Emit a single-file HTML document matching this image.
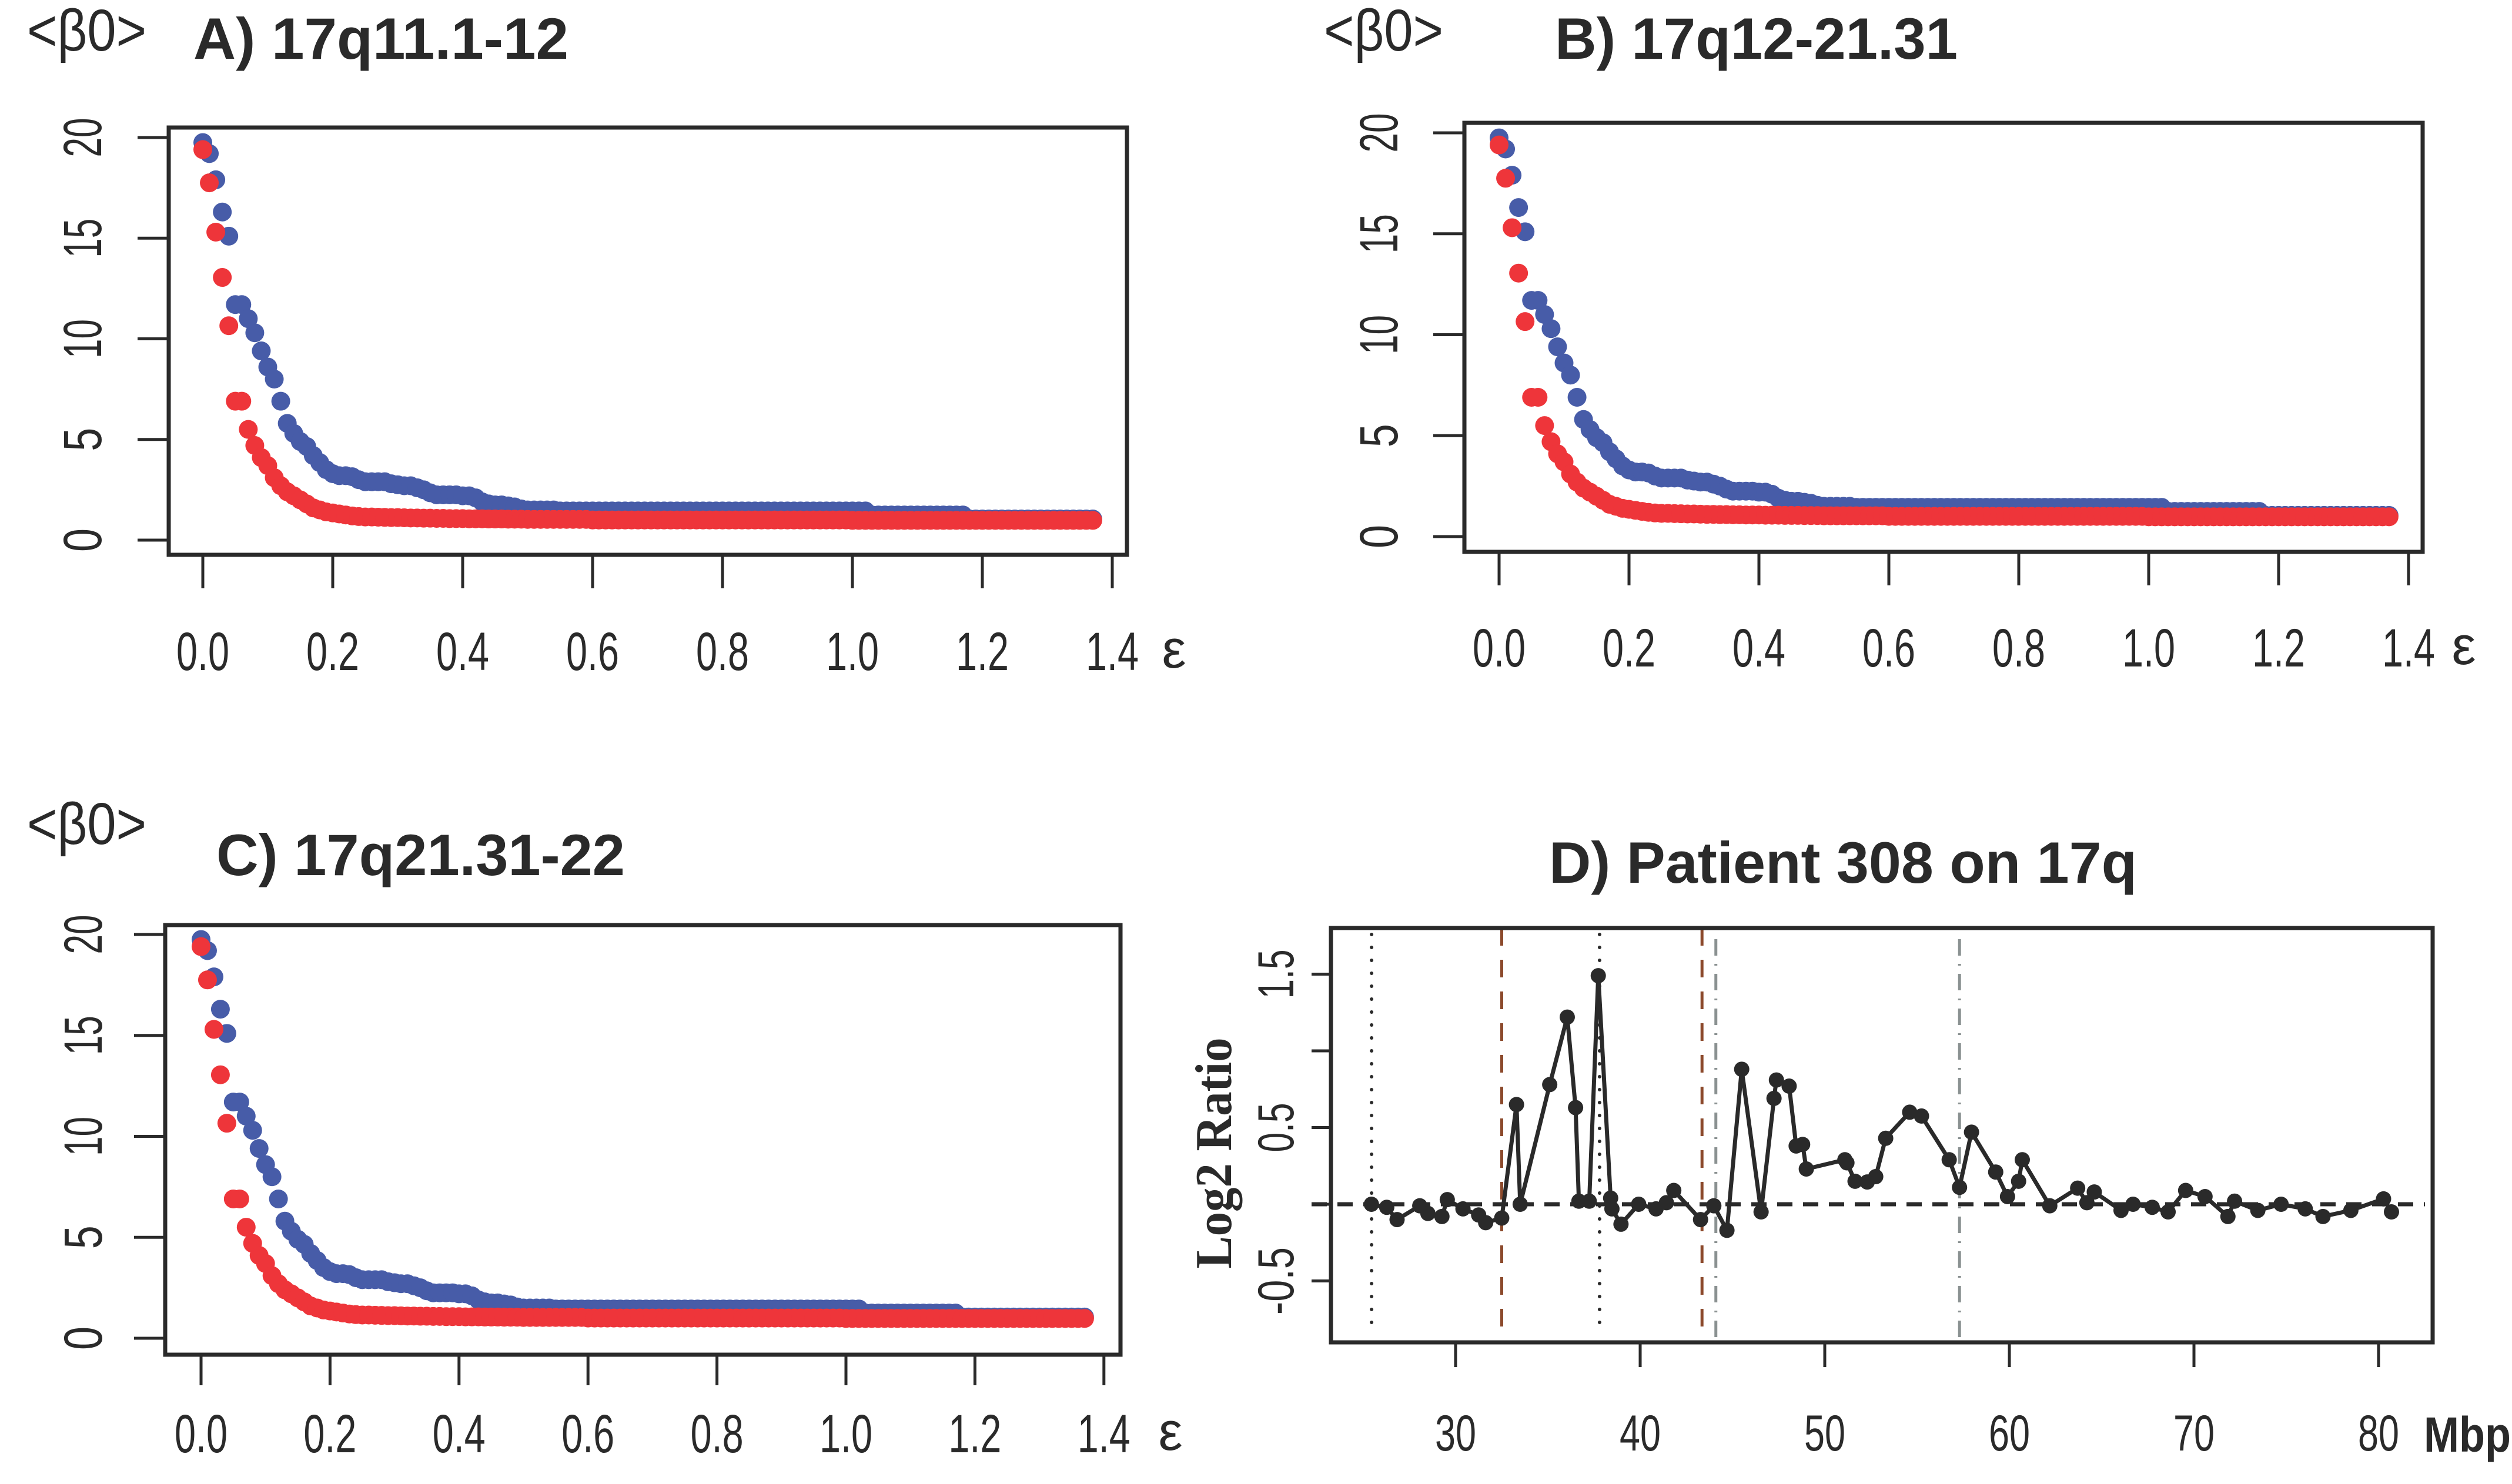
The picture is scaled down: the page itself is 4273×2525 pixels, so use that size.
<!DOCTYPE html>
<html><head><meta charset="utf-8"><style>
html,body{margin:0;padding:0;background:#fff;}
svg{display:block;}
text{font-family:"Liberation Sans",sans-serif;fill:#2a2a2a;}
</style></head><body>
<svg id="fig" xmlns="http://www.w3.org/2000/svg" width="4273" height="2525" viewBox="0 0 4273 2525"></svg>
<script>
// ---- data for panels A-C (beta0 vs epsilon) ----
const epsValues = [0,0.01,0.02,0.03,0.04,0.05,0.06,0.07,0.08,0.09,0.1,0.11,0.12,0.13,0.14,0.15,0.16,0.17,0.18,0.19,0.2,0.21,0.22,0.23,0.24,0.25,0.26,0.27,0.28,0.29,0.3,0.31,0.32,0.33,0.34,0.35,0.36,0.37,0.38,0.39,0.4,0.41,0.42,0.43,0.44,0.45,0.46,0.47,0.48,0.49,0.5,0.51,0.52,0.53,0.54,0.55,0.56,0.57,0.58,0.59,0.6,0.61,0.62,0.63,0.64,0.65,0.66,0.67,0.68,0.69,0.7,0.71,0.72,0.73,0.74,0.75,0.76,0.77,0.78,0.79,0.8,0.81,0.82,0.83,0.84,0.85,0.86,0.87,0.88,0.89,0.9,0.91,0.92,0.93,0.94,0.95,0.96,0.97,0.98,0.99,1.0,1.01,1.02,1.03,1.04,1.05,1.06,1.07,1.08,1.09,1.1,1.11,1.12,1.13,1.14,1.15,1.16,1.17,1.18,1.19,1.2,1.21,1.22,1.23,1.24,1.25,1.26,1.27,1.28,1.29,1.3,1.31,1.32,1.33,1.34,1.35,1.36,1.37];
const blueBeta = [19.75,19.2,17.9,16.3,15.1,11.7,11.7,11.0,10.3,9.4,8.6,8.0,6.9,5.8,5.3,4.9,4.65,4.2,3.85,3.5,
3.3,3.2,3.2,3.15,3.0,2.9,2.9,2.9,2.9,2.8,2.75,2.7,2.7,2.6,2.5,2.35,2.25,2.25,2.25,2.25,2.2,2.2,2.1,1.9,1.8,1.75,1.75,1.7,1.65,1.55,
1.5,1.5,1.5,1.5,1.5,1.45,1.45,1.45,1.45,1.45,
1.45,1.45,1.45,1.45,1.45,1.45,1.45,1.45,1.45,1.45,1.45,1.45,1.45,1.45,1.45,1.45,1.45,1.45,1.45,1.45,1.45,1.45,1.45,1.45,1.45,1.45,1.45,1.45,1.45,1.45,1.45,1.45,1.45,1.45,1.45,1.45,1.45,1.45,1.45,1.45,1.45,1.45,1.45,
1.25,1.25,1.25,1.25,1.25,1.25,1.25,1.25,1.25,1.25,1.25,1.25,1.25,1.25,1.25,
1.05,1.05,1.05,1.05,1.05,1.05,1.05,1.05,1.05,1.05,1.05,1.05,1.05,1.05,1.05,1.05,1.05,1.05,1.05,1.05];
const redBeta = [19.4,17.75,15.3,13.05,10.65,6.9,6.9,5.5,4.7,4.1,3.7,3.1,2.7,2.4,2.2,2.0,1.8,1.6,1.5,1.4,
1.35,1.3,1.25,1.2,1.17,1.15,1.15,1.14,1.13,1.12,1.12,1.11,1.1,1.1,1.09,1.09,1.08,1.08,1.07,1.07,1.07,1.06,1.06,1.06,1.05,1.05,1.05,1.04,1.04,1.04,
1.03,1.03,1.03,1.03,1.03,1.03,1.03,1.03,1.03,1.03,
1.0,1.0,1.0,1.0,1.0,1.0,1.0,1.0,1.0,1.0,1.0,1.0,1.0,1.0,1.0,1.0,1.0,1.0,1.0,1.0,1.0,1.0,1.0,1.0,1.0,1.0,1.0,1.0,1.0,1.0,1.0,1.0,1.0,1.0,1.0,1.0,1.0,1.0,1.0,1.0,
0.98,0.98,0.98,0.98,0.98,0.98,0.98,0.98,0.98,0.98,0.98,0.98,0.98,0.98,0.98,0.98,0.98,0.98,0.98,0.98,0.98,0.98,0.98,0.98,0.98,0.98,0.98,0.98,0.98,0.98,0.98,0.98,0.98,0.98,0.98,0.98,0.98,0.98];
const betaYTicks = [0,5,10,15,20];
const betaXTicks = [0,0.2,0.4,0.6,0.8,1.0,1.2,1.4];
const betaXTickLabels = ["0.0","0.2","0.4","0.6","0.8","1.0","1.2","1.4"];
const betaYTickLabels = ["0","5","10","15","20"];

// ---- data for panel D ----
const mbp = [25.44,26.27,26.83,28.06,28.5,29.26,29.55,30.4,31.25,31.63,32.5,33.3,33.5,35.1,36.05,36.5,36.68,37.24,37.73,38.4,38.47,38.96,39.92,40.86,41.42,41.82,43.27,43.99,44.7,45.5,46.55,47.25,47.38,48.07,48.45,48.8,49.0,51.09,51.2,51.64,52.3,52.76,53.3,54.6,55.24,56.74,57.3,57.95,59.26,59.9,60.5,60.7,62.19,63.7,64.2,64.6,66.05,66.7,67.74,68.6,69.55,70.6,71.84,72.2,73.46,74.72,76.03,76.99,78.5,80.27,80.7];
const log2Ratio = [0,-0.02,-0.10,-0.01,-0.06,-0.08,0.03,-0.03,-0.07,-0.12,-0.09,0.65,0.0,0.78,1.22,0.63,0.02,0.02,1.49,0.04,-0.03,-0.13,0,-0.03,0.01,0.09,-0.10,-0.01,-0.17,0.88,-0.05,0.69,0.81,0.77,0.38,0.39,0.23,0.29,0.27,0.15,0.145,0.18,0.43,0.60,0.575,0.29,0.11,0.47,0.21,0.05,0.15,0.29,-0.01,0.105,0.01,0.08,-0.04,0.0,-0.02,-0.05,0.09,0.05,-0.08,0.02,-0.04,0,-0.03,-0.08,-0.04,0.035,-0.05];
const dXTicks = [30,40,50,60,70,80];
const dYTicks = [-0.5,0,0.5,1.0,1.5];
const dYTickLabels = ["-0.5","","0.5","","1.5"];
const dottedLines = [25.45,37.8];
const brownLines = [32.5,43.35];
const greyLines = [44.1,57.3];

const NS="http://www.w3.org/2000/svg";
const svg=document.getElementById('fig');
function mk(tag,attrs,parent){const e=document.createElementNS(NS,tag);for(const k in attrs)e.setAttribute(k,attrs[k]);(parent||svg).appendChild(e);return e;}
function txt(s,attrs,parent){const e=mk('text',attrs,parent);e.textContent=s;return e;}

const panels=[
 {id:'a',title:'A) 17q11.1-12',tx:329,tw:638,ty:100,bx:46,by:86,box:[287,217,1917,944],x0:345,kx:1105,y0:919,ky:34.25,ylx:170,lb:1140,ex:1997,tickLen:57},
 {id:'b',title:'B) 17q12-21.31',tx:2645,tw:685,ty:100,bx:2252,by:86,box:[2491,209,4121,939],x0:2550,kx:1105,y0:913,ky:34.35,ylx:2375,lb:1134,ex:4191,tickLen:57},
 {id:'c',title:'C) 17q21.31-22',tx:368,tw:695,ty:1489,bx:46,by:1436,box:[281,1574,1906,2305],x0:342,kx:1097,y0:2277,ky:34.35,ylx:171,lb:2471,ex:1991,tickLen:52}
];
const labelW={"0":40,"5":40,"10":67,"15":67,"20":67};
panels.forEach(p=>{
  const g=mk('g',{});
  
  
  const X=v=>p.x0+v*p.kx, Y=v=>p.y0-v*p.ky;
  const t=txt(p.title,{x:p.tx,y:p.ty,'font-size':99,'font-weight':'bold',textLength:p.tw,lengthAdjust:'spacingAndGlyphs'},g);
  
  
  const yt=txt('<β0>',{x:p.bx,y:p.by,'font-size':100,textLength:203,lengthAdjust:'spacingAndGlyphs'},g);
  
  
  const blueG=mk('g',{fill:'#475ca8'},g);
  
  
  epsValues.forEach((e,i)=>{const c=mk('circle',{cx:X(e),cy:Y(blueBeta[i]),r:16},blueG);
    
    });
  const redG=mk('g',{fill:'#ee353a'},g);
  
  
  epsValues.forEach((e,i)=>{const c=mk('circle',{cx:X(e),cy:Y(redBeta[i]),r:16},redG);
    
    });
  const b=p.box;
  const r=mk('rect',{x:b[0],y:b[1],width:b[2]-b[0],height:b[3]-b[1],fill:'none',stroke:'#2a2a2a','stroke-width':7},g);
  
  
  betaYTicks.forEach((v,i)=>{
    const l=mk('line',{x1:b[0]-53,x2:b[0],y1:Y(v),y2:Y(v),stroke:'#2a2a2a','stroke-width':5},g);
    
    
    const s=betaYTickLabels[i];
    const tl=txt(s,{x:0,y:0,'font-size':92,'text-anchor':'middle',textLength:labelW[s],lengthAdjust:'spacingAndGlyphs',transform:`translate(${p.ylx+2},${Y(v)}) rotate(-90)`},g);
    
    
  });
  betaXTicks.forEach((v,i)=>{
    const l=mk('line',{x1:X(v),x2:X(v),y1:b[3],y2:b[3]+p.tickLen,stroke:'#2a2a2a','stroke-width':5},g);
    
    
    const tl=txt(betaXTickLabels[i],{x:X(v),y:p.lb,'font-size':92,'text-anchor':'middle',textLength:90,lengthAdjust:'spacingAndGlyphs'},g);
    
    
  });
  const e=txt('ε',{x:p.ex,y:p.lb-4,'font-size':92,'text-anchor':'middle'},g);
  
  
});

// ---- panel D ----
(function(){
  const g=mk('g',{});
  
  
  const X=m=>2476+(m-30)*31.4, Y=v=>2049-v*261;
  const box=[2264,1579,4138,2284];
  const t=txt('D) Patient 308 on 17q',{x:2635,y:1502,'font-size':99,'font-weight':'bold',textLength:1000,lengthAdjust:'spacingAndGlyphs'},g);
  
  
  const yl=txt('Log2 Ratio',{x:0,y:0,'font-size':88,'font-weight':'bold','text-anchor':'middle',style:'font-family:"Liberation Serif",serif',textLength:393,lengthAdjust:'spacingAndGlyphs',transform:'translate(2094,1962) rotate(-90)'},g);
  
  
  dottedLines.forEach(m=>{const l=mk('line',{x1:X(m),x2:X(m),y1:1590,y2:2265,stroke:'#2a2a2a','stroke-width':6,'stroke-dasharray':'0 22','stroke-linecap':'round'},g);
    
    });
  brownLines.forEach(m=>{const l=mk('line',{x1:X(m),x2:X(m),y1:box[1],y2:box[3],stroke:'#8c4a2c','stroke-width':5,'stroke-dasharray':'30 24'},g);
    
    });
  greyLines.forEach(m=>{const l=mk('line',{x1:X(m),x2:X(m),y1:1598,y2:box[3],stroke:'#8a9191','stroke-width':5,'stroke-dasharray':'28 14 3 14'},g);
    
    });
  const z=mk('line',{x1:2231,x2:4125,y1:Y(0),y2:Y(0),stroke:'#2a2a2a','stroke-width':7,'stroke-dasharray':'26 18'},g);
  
  
  const pts=mbp.map((m,i)=>X(m)+','+Y(log2Ratio[i])).join(' ');
  const pl=mk('polyline',{points:pts,fill:'none',stroke:'#2a2a2a','stroke-width':7,'stroke-linejoin':'round'},g);
  
  
  mbp.forEach((m,i)=>{const c=mk('circle',{cx:X(m),cy:Y(log2Ratio[i]),r:13,fill:'#2a2a2a'},g);
    
    });
  const r=mk('rect',{x:box[0],y:box[1],width:box[2]-box[0],height:box[3]-box[1],fill:'none',stroke:'#2a2a2a','stroke-width':7},g);
  
  
  dYTicks.forEach((v,i)=>{
    const l=mk('line',{x1:2231,x2:box[0],y1:Y(v),y2:Y(v),stroke:'#2a2a2a','stroke-width':5},g);
    
    
    if(dYTickLabels[i]){
      const s=dYTickLabels[i];
      const tl=txt(s,{x:0,y:0,'font-size':86,'text-anchor':'middle',textLength:s.length>3?115:84,lengthAdjust:'spacingAndGlyphs',transform:`translate(2200,${Y(v)}) rotate(-90)`},g);
      
      
    }
  });
  dXTicks.forEach(m=>{
    const l=mk('line',{x1:X(m),x2:X(m),y1:box[3],y2:2326,stroke:'#2a2a2a','stroke-width':5},g);
    
    
    const tl=txt(String(m),{x:X(m),y:2468,'font-size':86,'text-anchor':'middle',textLength:70,lengthAdjust:'spacingAndGlyphs'},g);
    
    
  });
  const mb=txt('Mbp',{x:4123,y:2470,'font-size':84,'font-weight':'bold',textLength:148,lengthAdjust:'spacingAndGlyphs'},g);
  
  
})();
</script>
</body></html>
